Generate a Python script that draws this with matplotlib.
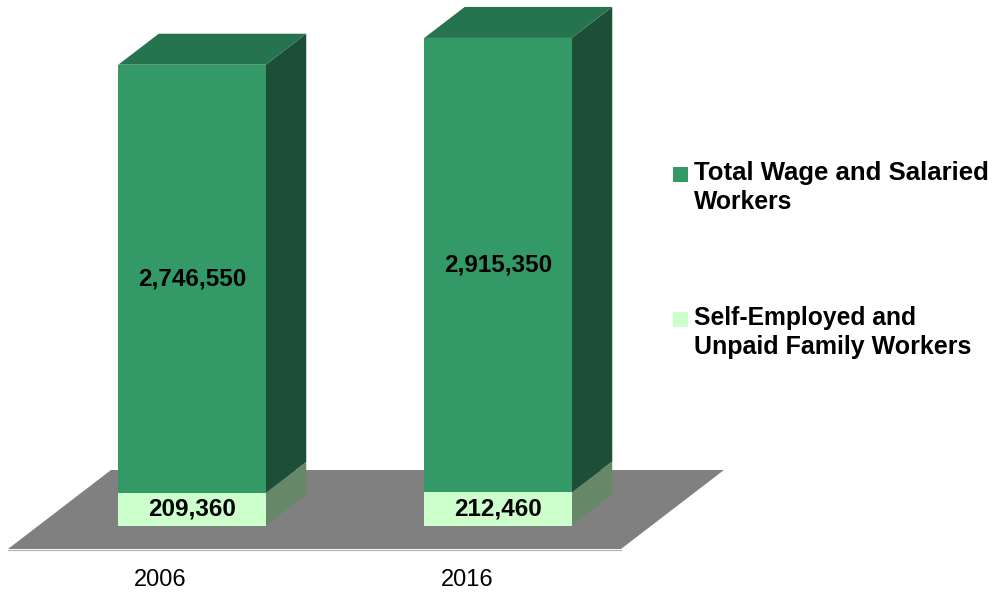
import matplotlib
matplotlib.use("Agg")
import matplotlib.pyplot as plt
from matplotlib.patches import Polygon, Rectangle

years = ["2006", "2016"]
self_employed = [209360, 212460]
wage_salaried = [2746550, 2915350]
legend_lines = {"wage": ["Total Wage and Salaried", "Workers"],
                "self": ["Self-Employed and", "Unpaid Family Workers"]}

W, H = 993, 592
plt.rcParams["font.family"] = ["Liberation Sans", "DejaVu Sans"]
fig = plt.figure(figsize=(W / 100, H / 100), dpi=100, facecolor="white")
ax = fig.add_axes([0, 0, 1, 1])

XS = 306.0          # px per category
YS = 6415.0         # value per px
X0, Y0 = 192.0, 525.5
ax.set_xlim(-X0 / XS, (W - X0) / XS)
ax.set_ylim((Y0 - H) * YS, Y0 * YS)
ax.axis("off")

def px(x, y):
    return ((x - X0) / XS, (Y0 - y) * YS)

GREEN, LIGHT = "#339966", "#CCFFCC"
TOP, SIDE, SIDE_L = "#267350", "#1D4F36", "#668868"
DX, DY = 40.5 / XS, 31 * YS
BW = 147.5 / XS

# floor
ax.add_patch(Polygon([px(8, 549), px(621, 549), px(724, 470), px(111, 470)],
                     closed=True, fc="#808080", ec="none", zorder=1))
ax.plot([px(8, 549.5)[0], px(621, 549.5)[0]], [px(8, 549.5)[1]] * 2,
        color="#B0B0B0", lw=0.8, zorder=1)

for i, (yr, s, w) in enumerate(zip(years, self_employed, wage_salaried)):
    l, r = i - BW / 2, i + BW / 2
    b1, t = s, s + w
    ax.add_patch(Rectangle((l, 0), BW, b1, fc=LIGHT, ec="none", zorder=3))
    ax.add_patch(Rectangle((l, b1), BW, w, fc=GREEN, ec="none", zorder=3))
    ax.add_patch(Polygon([(r, 0), (r + DX, DY), (r + DX, b1 + DY), (r, b1)],
                         fc=SIDE_L, ec="none", zorder=2))
    ax.add_patch(Polygon([(r, b1), (r + DX, b1 + DY), (r + DX, t + DY), (r, t)],
                         fc=SIDE, ec="none", zorder=2))
    ax.add_patch(Polygon([(l, t), (r, t), (r + DX, t + DY), (l + DX, t + DY)],
                         fc=TOP, ec="none", zorder=2))
    ax.text(i, b1 / 2, f"{s:,}", ha="center", va="center", fontsize=17.5,
            fontweight="bold", color="black", zorder=5)
    ax.text(i, b1 + w / 2, f"{w:,}", ha="center", va="center", fontsize=17.5,
            fontweight="bold", color="black", zorder=5)
    lx, ly = px(134 + i * 307, 580)
    ax.text(lx, ly, yr, ha="left", va="center", fontsize=17, color="black")

# legend
for (key, c, sy, ys, sizes) in [("wage", GREEN, 174, (173, 202), (18.5, 17.8)),
                                ("self", LIGHT, 319, (318, 347), (17.7, 18.0))]:
    x0, y0 = px(673, sy + 7.5)
    x1, y1 = px(688, sy - 7.5)
    ax.add_patch(Rectangle((x0, y0), x1 - x0, y1 - y0, fc=c, ec="none"))
    for line, y, fs in zip(legend_lines[key], ys, sizes):
        tx, ty = px(694, y)
        ax.text(tx, ty, line, ha="left", va="center", fontsize=fs,
                fontweight="bold", color="black")

fig.savefig("out.png", dpi=100, facecolor="white")
